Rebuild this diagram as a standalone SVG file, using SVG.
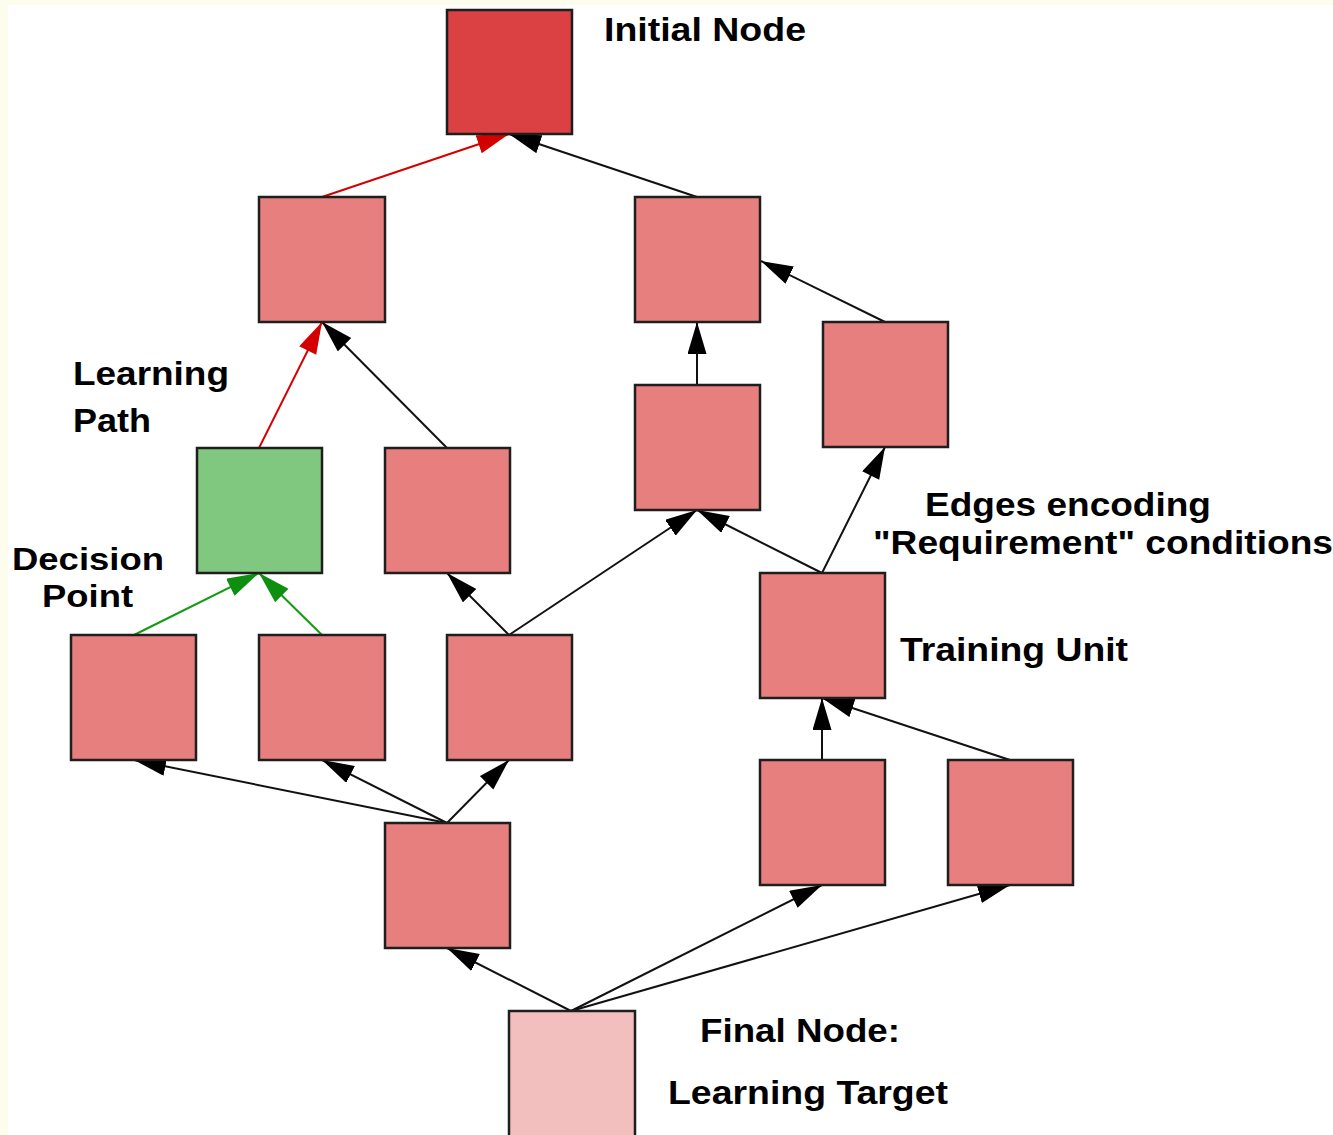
<svg xmlns="http://www.w3.org/2000/svg" width="1333" height="1135" viewBox="0 0 1333 1135">
  <style>
    .node { stroke: #1e1e1e; stroke-width: 2.5; }
    .unit { fill: #e67f7e; }
    .start { fill: #db4043; }
    .choice { fill: #80c77f; }
    .goal { fill: #f2bebe; }
    .edge { fill: none; stroke-width: 2; }
    .req { stroke: #111111; }
    .path { stroke: #d40000; }
    .alt { stroke: #139a13; }
    .label { font-family: "Liberation Sans", Arial, Helvetica, sans-serif; font-weight: bold; font-size: 34px; fill: #000000; }
    .tight { font-size: 32px; }
  </style>
  <defs>
    <marker id="ah-black" markerUnits="userSpaceOnUse" markerWidth="34" markerHeight="20" refX="32" refY="9.5" orient="auto">
      <path d="M0,0 L32,9.5 L0,19 z" fill="#000000"/>
    </marker>
    <marker id="ah-red" markerUnits="userSpaceOnUse" markerWidth="34" markerHeight="20" refX="32" refY="9.5" orient="auto">
      <path d="M0,0 L32,9.5 L0,19 z" fill="#d40000"/>
    </marker>
    <marker id="ah-green" markerUnits="userSpaceOnUse" markerWidth="34" markerHeight="20" refX="32" refY="9.5" orient="auto">
      <path d="M0,0 L32,9.5 L0,19 z" fill="#0f8f0f"/>
    </marker>
  </defs>

  <!-- page background with pale margin -->
  <rect x="0" y="0" width="1333" height="1135" fill="#fdfdee"/>
  <rect x="8" y="5" width="1325" height="1130" fill="#ffffff"/>

  <!-- connectors: arrows point from a unit to the units it requires -->
  <g id="edges">
    <line class="edge path" x1="322" y1="197" x2="509" y2="134" marker-end="url(#ah-red)"/>
    <line class="edge req" x1="697" y1="197" x2="509" y2="134" marker-end="url(#ah-black)"/>
    <line class="edge path" x1="259" y1="448" x2="322" y2="322" marker-end="url(#ah-red)"/>
    <line class="edge req" x1="447" y1="448" x2="322" y2="322" marker-end="url(#ah-black)"/>
    <line class="edge req" x1="697" y1="385" x2="697" y2="322" marker-end="url(#ah-black)"/>
    <line class="edge req" x1="885" y1="322" x2="761" y2="261" marker-end="url(#ah-black)"/>
    <line class="edge req" x1="509" y1="635" x2="447" y2="573" marker-end="url(#ah-black)"/>
    <line class="edge req" x1="509" y1="635" x2="697" y2="510" marker-end="url(#ah-black)"/>
    <line class="edge req" x1="822" y1="573" x2="697" y2="510" marker-end="url(#ah-black)"/>
    <line class="edge req" x1="822" y1="573" x2="885" y2="447" marker-end="url(#ah-black)"/>
    <line class="edge alt" x1="134" y1="635" x2="259" y2="573" marker-end="url(#ah-green)"/>
    <line class="edge alt" x1="322" y1="635" x2="259" y2="573" marker-end="url(#ah-green)"/>
    <line class="edge req" x1="447" y1="823" x2="134" y2="760" marker-end="url(#ah-black)"/>
    <line class="edge req" x1="447" y1="823" x2="322" y2="760" marker-end="url(#ah-black)"/>
    <line class="edge req" x1="447" y1="823" x2="509" y2="760" marker-end="url(#ah-black)"/>
    <line class="edge req" x1="822" y1="760" x2="822" y2="698" marker-end="url(#ah-black)"/>
    <line class="edge req" x1="1010" y1="760" x2="822" y2="698" marker-end="url(#ah-black)"/>
    <line class="edge req" x1="571" y1="1011" x2="447" y2="948" marker-end="url(#ah-black)"/>
    <line class="edge req" x1="571" y1="1011" x2="822" y2="885" marker-end="url(#ah-black)"/>
    <line class="edge req" x1="571" y1="1011" x2="1010" y2="885" marker-end="url(#ah-black)"/>
  </g>

  <!-- nodes -->
  <g id="n-initial"><rect class="node start" x="447" y="10" width="125" height="124"/></g>
  <g id="n-a"><rect class="node unit" x="259" y="197" width="126" height="125"/></g>
  <g id="n-b"><rect class="node unit" x="635" y="197" width="125" height="125"/></g>
  <g id="n-c"><rect class="node unit" x="823" y="322" width="125" height="125"/></g>
  <g id="n-d"><rect class="node unit" x="635" y="385" width="125" height="125"/></g>
  <g id="n-g"><rect class="node choice" x="197" y="448" width="125" height="125"/></g>
  <g id="n-e"><rect class="node unit" x="385" y="448" width="125" height="125"/></g>
  <g id="n-f1"><rect class="node unit" x="71" y="635" width="125" height="125"/></g>
  <g id="n-f2"><rect class="node unit" x="259" y="635" width="126" height="125"/></g>
  <g id="n-f3"><rect class="node unit" x="447" y="635" width="125" height="125"/></g>
  <g id="n-tu"><rect class="node unit" x="760" y="573" width="125" height="125"/></g>
  <g id="n-h"><rect class="node unit" x="385" y="823" width="125" height="125"/></g>
  <g id="n-i"><rect class="node unit" x="760" y="760" width="125" height="125"/></g>
  <g id="n-j"><rect class="node unit" x="948" y="760" width="125" height="125"/></g>
  <g id="n-final"><rect class="node goal" x="509" y="1011" width="126" height="130"/></g>

  <!-- annotations -->
  <g id="labels">
    <text class="label" x="604" y="41" textLength="202" lengthAdjust="spacingAndGlyphs">Initial Node</text>
    <text class="label" x="73" y="385" textLength="156" lengthAdjust="spacingAndGlyphs">Learning</text>
    <text class="label" x="73" y="432" textLength="78" lengthAdjust="spacingAndGlyphs">Path</text>
    <text class="label tight" x="12" y="570" textLength="152" lengthAdjust="spacingAndGlyphs">Decision</text>
    <text class="label tight" x="42" y="607" textLength="91" lengthAdjust="spacingAndGlyphs">Point</text>
    <text class="label" x="925" y="516" textLength="286" lengthAdjust="spacingAndGlyphs">Edges encoding</text>
    <text class="label" x="873" y="554" textLength="460" lengthAdjust="spacingAndGlyphs">"Requirement" conditions</text>
    <text class="label" x="900" y="661" textLength="228" lengthAdjust="spacingAndGlyphs">Training Unit</text>
    <text class="label" x="700" y="1042" textLength="200" lengthAdjust="spacingAndGlyphs">Final Node:</text>
    <text class="label" x="668" y="1104" textLength="280" lengthAdjust="spacingAndGlyphs">Learning Target</text>
  </g>
</svg>
